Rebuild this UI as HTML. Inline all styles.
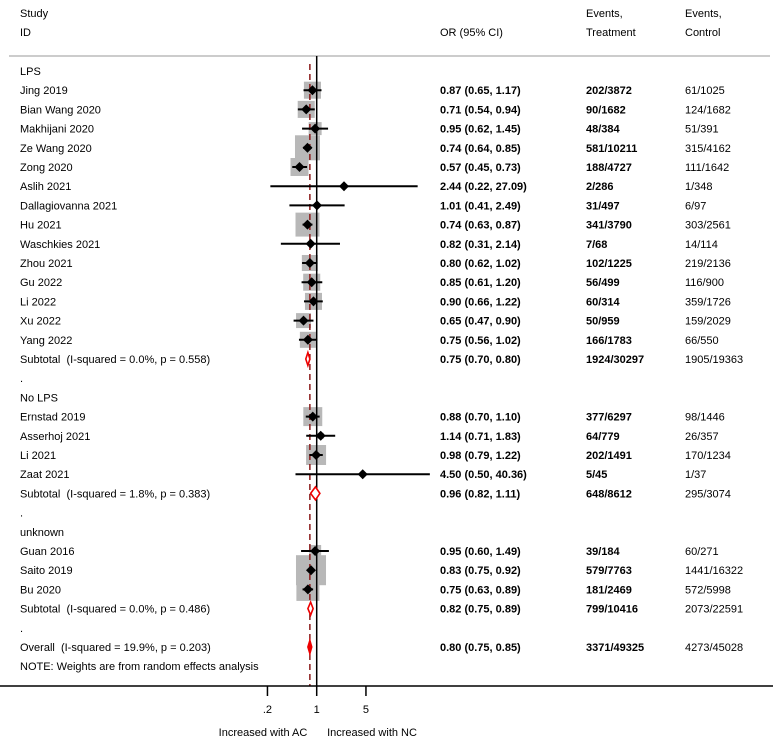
<!DOCTYPE html>
<html><head><meta charset="utf-8"><style>
body{margin:0;background:#fff;}
svg{display:block;font-family:"Liberation Sans",Arial,sans-serif;font-size:11px;}
text{white-space:pre;}
.b{font-weight:bold;}
</style></head><body>
<svg id="chart" width="780" height="745" viewBox="0 0 780 745"></svg>
<script>
const labels=["LPS","Jing 2019","Bian Wang 2020","Makhijani 2020","Ze Wang 2020","Zong 2020","Aslih 2021","Dallagiovanna 2021","Hu 2021","Waschkies 2021","Zhou 2021","Gu 2022","Li 2022","Xu 2022","Yang 2022","Subtotal  (I-squared = 0.0%, p = 0.558)",".","No LPS","Ernstad 2019","Asserhoj 2021","Li 2021","Zaat 2021","Subtotal  (I-squared = 1.8%, p = 0.383)",".","unknown","Guan 2016","Saito 2019","Bu 2020","Subtotal  (I-squared = 0.0%, p = 0.486)",".","Overall  (I-squared = 19.9%, p = 0.203)","NOTE: Weights are from random effects analysis"];
const kinds=["h","s","s","s","s","s","s","s","s","s","s","s","s","s","s","sub","t","h","s","s","s","s","sub","t","h","s","s","s","sub","t","all","t"];
const orVals=[null,0.87,0.71,0.95,0.74,0.57,2.44,1.01,0.74,0.82,0.80,0.85,0.90,0.65,0.75,0.75,null,null,0.88,1.14,0.98,4.50,0.96,null,null,0.95,0.83,0.75,0.82,null,0.80,null];
const lowVals=[null,0.65,0.54,0.62,0.64,0.45,0.22,0.41,0.63,0.31,0.62,0.61,0.66,0.47,0.56,0.70,null,null,0.70,0.71,0.79,0.50,0.82,null,null,0.60,0.75,0.63,0.75,null,0.75,null];
const highVals=[null,1.17,0.94,1.45,0.85,0.73,27.09,2.49,0.87,2.14,1.02,1.20,1.22,0.90,1.02,0.80,null,null,1.10,1.83,1.22,40.36,1.11,null,null,1.49,0.92,0.89,0.89,null,0.85,null];
const weights=[0,9.6,9.6,5.6,20.7,10.7,0.1,0.5,19,0.4,8.5,9.6,9.6,7.4,8.5,0,0,0,11.9,1.2,13.2,0.1,0,0,0,4.8,29.8,17.5,0,0,0,0];
const treat=["","202/3872","90/1682","48/384","581/10211","188/4727","2/286","31/497","341/3790","7/68","102/1225","56/499","60/314","50/959","166/1783","1924/30297","","","377/6297","64/779","202/1491","5/45","648/8612","","","39/184","579/7763","181/2469","799/10416","","3371/49325",""];
const ctrl=["","61/1025","124/1682","51/391","315/4162","111/1642","1/348","6/97","303/2561","14/114","219/2136","116/900","359/1726","159/2029","66/550","1905/19363","","","98/1446","26/357","170/1234","1/37","295/3074","","","60/271","1441/16322","572/5998","2073/22591","","4273/45028",""];
const ticks=[0.2,1,5];
const tickLabels=[".2","1","5"];
const pooled=0.80;

const svg=document.getElementById('chart');
const NS='http://www.w3.org/2000/svg';
const X0=316.7,K=30.6;
const xs=v=>X0+Math.log(v)*K;
const rowY=i=>71+i*19.2;
function mk(tag,attrs,parent){const e=document.createElementNS(NS,tag);for(const k in attrs)e.setAttribute(k,attrs[k]);(parent||svg).appendChild(e);return e;}
function txt(x,y,s,cls){const t=mk('text',{x:x,y:y+4});if(cls)t.setAttribute('class',cls);t.textContent=s;return t;}

let t;
t=txt(20,13,"Study");
t=txt(20,32,"ID");
t=txt(440,32,"OR (95% CI)");
t=txt(586,13,"Events,");
t=txt(586,32,"Treatment");
t=txt(685,13,"Events,");
t=txt(685,32,"Control");
let l=mk('line',{x1:9,y1:56,x2:770,y2:56,stroke:'#bbb','stroke-width':1.5});


labels.forEach((s,i)=>{
  if(kinds[i]==='s'){const y=rowY(i);const sz=5.5*Math.sqrt(weights[i]);
    const r=mk('rect',{x:xs(orVals[i])-sz/2,y:y-sz/2,width:sz,height:sz,fill:'#b8b8b8'});
    }
});
l=mk('line',{x1:X0,y1:56,x2:X0,y2:686,stroke:'#000','stroke-width':1.5});

l=mk('line',{x1:xs(pooled),y1:64,x2:xs(pooled),y2:686,stroke:'#8b1a1a','stroke-width':1.5,'stroke-dasharray':'6,4'});


labels.forEach((s,i)=>{
  const y=rowY(i);
  t=txt(20,y,s);
  if(orVals[i]!=null){
    t=txt(440,y,orVals[i].toFixed(2)+" ("+lowVals[i].toFixed(2)+", "+highVals[i].toFixed(2)+")","b");
    
    const xo=xs(orVals[i]),xl=xs(lowVals[i]),xh=xs(highVals[i]);
    if(kinds[i]==='s'){
      const c=mk('line',{x1:xl,y1:y,x2:xh,y2:y,stroke:'#000','stroke-width':2});
      
      const d=mk('polygon',{points:`${xo-5},${y} ${xo},${y-5} ${xo+5},${y} ${xo},${y+5}`,fill:'#000'});
      
    } else {
      const d=mk('polygon',{points:`${xl},${y} ${xo},${y-6.5} ${xh},${y} ${xo},${y+6.5}`,fill:kinds[i]==='all'?'#e00':'#fff',stroke:'#e00','stroke-width':1.6});
      
    }
  }
  if(treat[i]){t=txt(586,y,treat[i],"b");}
  if(ctrl[i]){t=txt(685,y,ctrl[i]);}
});

l=mk('line',{x1:0,y1:686,x2:773,y2:686,stroke:'#000','stroke-width':1.5});

ticks.forEach((v,i)=>{
  const x=xs(v);
  const tk=mk('line',{x1:x,y1:686,x2:x,y2:696,stroke:'#000','stroke-width':1.5});
  
  const tl=mk('text',{x:x,y:713,'text-anchor':'middle'});tl.textContent=tickLabels[i];
  
});
t=mk('text',{x:263,y:736,'text-anchor':'middle'});t.textContent="Increased with AC";

t=mk('text',{x:372,y:736,'text-anchor':'middle'});t.textContent="Increased with NC";

</script>
</body></html>
